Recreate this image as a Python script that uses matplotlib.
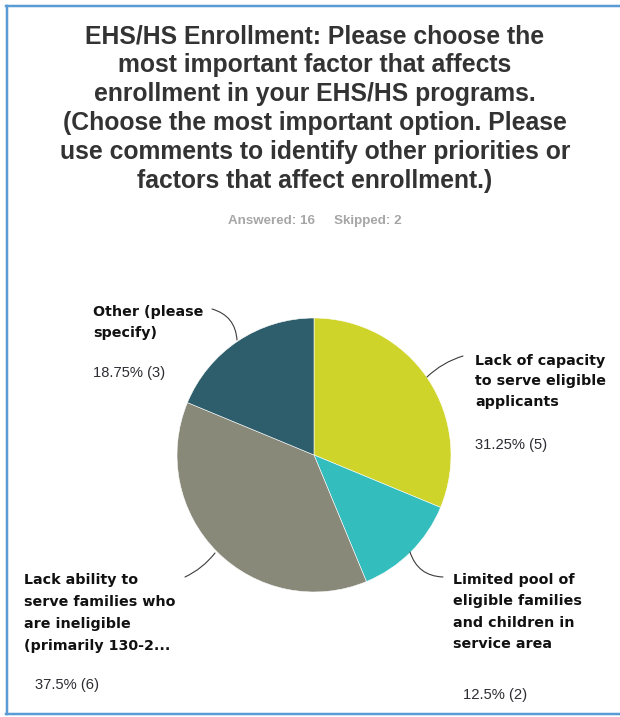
import matplotlib
matplotlib.use("Agg")
import matplotlib.pyplot as plt
from matplotlib.patches import FancyArrowPatch
from matplotlib.lines import Line2D

plt.rcParams["font.family"] = ["Liberation Sans", "DejaVu Sans"]

# Survey responses
categories = [
    "Lack of capacity\nto serve eligible\napplicants",
    "Limited pool of\neligible families\nand children in\nservice area",
    "Lack ability to\nserve families who\nare ineligible\n(primarily 130-2...",
    "Other (please\nspecify)",
]
counts = [5, 2, 6, 3]
percent_labels = ["31.25% (5)", "12.5% (2)", "37.5% (6)", "18.75% (3)"]
colors = ["#cfd42a", "#33bdbd", "#89897a", "#2e5e6b"]

title_lines = [
    "EHS/HS Enrollment: Please choose the",
    "most important factor that affects",
    "enrollment in your EHS/HS programs.",
    "(Choose the most important option. Please",
    "use comments to identify other priorities or",
    "factors that affect enrollment.)",
]
answered, skipped = 16, 2

W, H = 620, 717
fig = plt.figure(figsize=(W / 100, H / 100), dpi=100)
ax = fig.add_axes([0, 0, 1, 1])
PX = 0.72  # points per pixel

# Pie, starting at 12 o'clock and running clockwise (y axis is flipped)
ax.pie(counts, colors=colors, startangle=-90, counterclock=True,
       center=(314, 455), radius=137, frame=True,
       wedgeprops=dict(edgecolor="white", linewidth=0.4))

ax.set_xlim(0, W)
ax.set_ylim(H, 0)
ax.set_aspect("auto")
ax.axis("off")

# Frame around the panel
ax.add_line(Line2D([6.5, 6.5], [6, 714], color="#5b9bd5", lw=2.5 * PX))
ax.add_line(Line2D([6, W], [6, 6], color="#5b9bd5", lw=2.5 * PX))
ax.add_line(Line2D([6, W], [714, 714], color="#5b9bd5", lw=2.5 * PX))

# Title
baseline = 43
for line in title_lines:
    ax.text(315, baseline, line, ha="center", va="baseline", fontsize=17.8,
            fontweight="bold", color="#333333")
    baseline += 29

ax.text(315, 224, f"Answered: {answered}", ha="right", va="baseline",
        fontsize=9.6, fontweight="bold", color="#a6a6a6")
ax.text(334, 224, f"Skipped: {skipped}", ha="left", va="baseline",
        fontsize=9.6, fontweight="bold", color="#a6a6a6")

# Category labels: (x, first baseline, line step, percent baseline, percent x)
label_pos = [
    (475, 365, 20.5, 449, 475),
    (453, 584, 21.3, 699, 463),
    (24, 584, 22, 689, 35),
    (93, 316, 21, 377, 93),
]
for cat, pct, (x, y0, dy, yp, xp) in zip(categories, percent_labels, label_pos):
    for i, line in enumerate(cat.split("\n")):
        ax.text(x, y0 + i * dy, line, ha="left", va="baseline", fontsize=10.3,
                fontweight="bold", color="#111111", family="DejaVu Sans")
    ax.text(xp, yp, pct, ha="left", va="baseline", fontsize=10.6,
            color="#2d2d33")

# Leader lines from wedges to labels
leaders = [
    ((427, 377), (463, 356), -0.12),
    ((410, 552), (443, 577), 0.35),
    ((215, 553), (185, 577), -0.12),
    ((237, 340), (212, 309), 0.35),
]
for start, end, rad in leaders:
    ax.add_patch(FancyArrowPatch(start, end, arrowstyle="-",
                                 connectionstyle=f"arc3,rad={rad}",
                                 color="#3a3a3a", lw=1.1 * PX,
                                 shrinkA=0, shrinkB=0))

fig.savefig("out.png", dpi=100, facecolor="white")
